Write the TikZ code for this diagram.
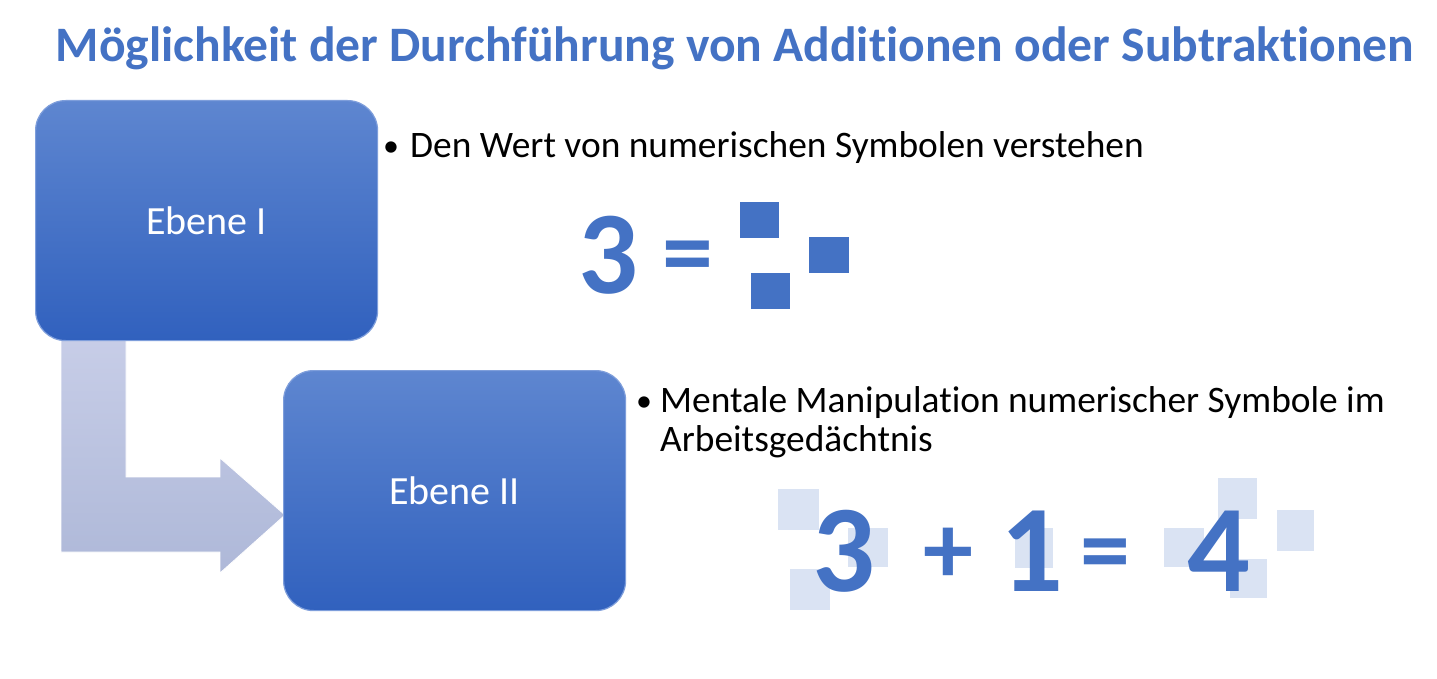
\documentclass[tikz,border=0pt]{standalone}
\usepackage{fontspec}
\setmainfont{Carlito}[Ligatures=NoCommon]
\definecolor{tblue}{HTML}{4472C4}
\definecolor{boxtop}{HTML}{5E86D0}
\definecolor{boxbot}{HTML}{3161BE}
\definecolor{boxedge}{HTML}{7E9EDB}
\definecolor{arrtop}{HTML}{C8CEE8}
\definecolor{arrbot}{HTML}{AEB8D8}
\definecolor{lsq}{HTML}{DAE3F3}
\begin{document}
\begin{tikzpicture}[x=1pt,y=-1pt,
  level/.style={rounded corners=30pt, top color=boxtop, bottom color=boxbot, draw=boxedge, line width=1.2pt},
  lvltext/.style={text=white, font=\fontsize{40}{46}\selectfont},
  bullettext/.style={anchor=base west, inner sep=0pt, font=\fontsize{37.4}{44}\selectfont, text=black},
  bigdigit/.style={anchor=base, inner sep=0pt, text=tblue, font=\bfseries\fontsize{118}{118}\selectfont},
  bigop/.style={anchor=base, inner sep=0pt, text=tblue, font=\bfseries\fontsize{102}{102}\selectfont},
  bigdigitb/.style={anchor=base, inner sep=0pt, text=tblue, font=\bfseries\fontsize{124}{124}\selectfont},
  bigopb/.style={anchor=base, inner sep=0pt, text=tblue, font=\bfseries\fontsize{100}{100}\selectfont},
  darksq/.style={fill=tblue},
  lightsq/.style={fill=lsq}]
\useasboundingbox (0,0) rectangle (1437,679);
\fill[white] (0,0) rectangle (1437,679);

% title
\node[anchor=base, inner sep=0pt, text=tblue, font=\bfseries\fontsize{49.6}{56}\selectfont] (title) at (735,62) {Möglichkeit der Durchführung von Additionen oder Subtraktionen};

% bent arrow
\shade[top color=arrtop, bottom color=arrbot, draw=white, line width=0.8pt]
  (61,330) -- (126,330) -- (126,477) -- (220,477) -- (220,458) -- (285,515) -- (220,573) -- (220,552) -- (61,552) -- cycle;

% boxes
\node[level, minimum width=342pt, minimum height=240pt, anchor=north west, inner sep=0pt] (e1) at (35,100) {};
\node[lvltext] at (e1.center) {Ebene I};
\node[level, minimum width=342pt, minimum height=240pt, anchor=north west, inner sep=0pt] (e2) at (283,370) {};
\node[lvltext] at (e2.center) {Ebene II};

% bullets
\node[bullettext, font=\fontsize{32}{40}\selectfont] (b1) at (383,157) {\textbullet};
\node[bullettext] (t1) at (410,158) {Den Wert von numerischen Symbolen verstehen};
\node[bullettext, font=\fontsize{32}{40}\selectfont] (b2) at (636,411) {\textbullet};
\node[bullettext] (t2) at (660,412) {Mentale Manipulation numerischer Symbole im};
\node[bullettext] (t3) at (660,451) {Arbeitsgedächtnis};

% row 1
\node[bigdigit] (d3a) at (608,293) {3};
\node[bigop] (eqa) at (688,286) {=};
\fill[darksq] (740,202) rectangle (779,238);
\fill[darksq] (809,237) rectangle (849,273);
\fill[darksq] (751,273) rectangle (790,309);

% row 2 light squares
\fill[lightsq] (778,489) rectangle (819,530);
\fill[lightsq] (848,528) rectangle (888,567);
\fill[lightsq] (790,569) rectangle (830,610);
\fill[lightsq] (1015,528) rectangle (1053,568);
\fill[lightsq] (1164,528) rectangle (1204,567);
\fill[lightsq] (1218,478) rectangle (1257,519);
\fill[lightsq] (1277,510) rectangle (1314,551);
\fill[lightsq] (1230,559) rectangle (1267,598);

% row 2 digits
\node[bigdigitb] (d3b) at (844,591) {3};
\node[bigopb] (plus) at (948,583) {+};
\node[bigdigitb] (d1) at (1032,591) {1};
\node[bigopb] (eqb) at (1105,583) {=};
\node[bigdigitb] (d4) at (1219,591) {4};
\end{tikzpicture}
\end{document}
